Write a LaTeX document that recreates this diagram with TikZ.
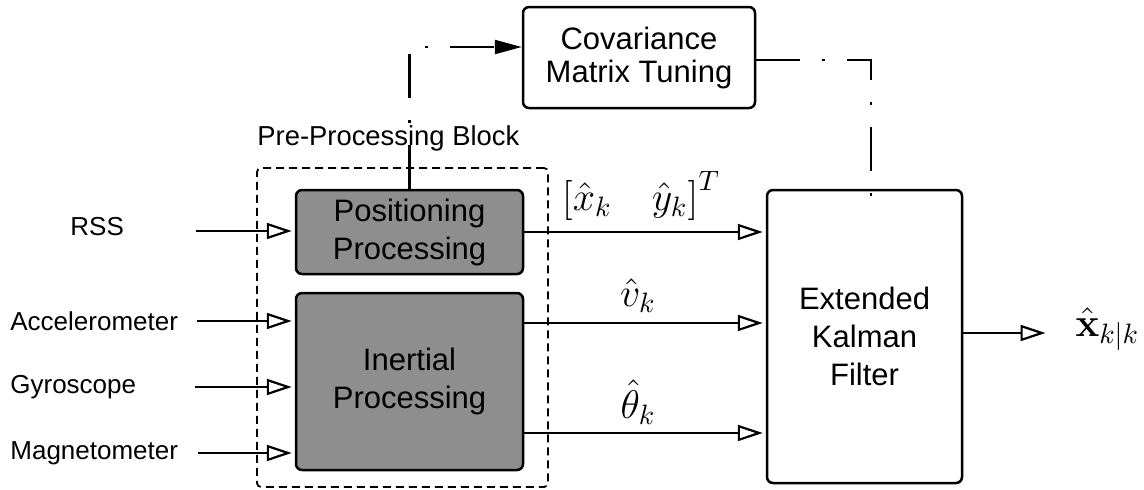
\RequirePackage{fix-cm}
\documentclass[tikz,border=0pt]{standalone}
\usepackage[no-math]{fontspec}
\newfontfamily\arialfont{Liberation Sans}
\usetikzlibrary{arrows.meta}
\definecolor{blockgray}{RGB}{142,142,142}

\begin{document}
\begin{tikzpicture}[x=0.5pt,y=-0.5pt,
  box/.style={draw, line width=1.25pt, rounded corners=3pt, inner sep=0pt,
    align=center, font=\arialfont\fontsize{15.5}{19}\selectfont},
  shaded/.style={box, fill=blockgray},
  sensor/.style={inner sep=0pt, anchor=base west,
    font=\arialfont\fontsize{13}{15}\selectfont},
  feed/.style={line width=1.1pt, shorten >=1.5pt,
    -{Triangle[open, length=12.5pt, width=8pt, line width=1.1pt]}},
  tune/.style={line width=1.1pt, dash pattern=on 22pt off 11pt on 1.5pt off 11pt},
  mathlabel/.style={inner sep=0pt, anchor=base, scale=1.25,
    font=\fontsize{16}{19}\selectfont}
]
\useasboundingbox (0,0) rectangle (1144,489);

% processing blocks
\node[draw, line width=0.9pt, dash pattern=on 4pt off 2.5pt, rounded corners=2pt,
      minimum width=145.5pt, minimum height=159.5pt] (pre) at (402.5,327.5) {};
\node[inner sep=0pt, anchor=base west, font=\arialfont\fontsize{13.7}{16}\selectfont]
      (prelab) at (257,145) {Pre-Processing Block};
\node[box, minimum width=116pt, minimum height=50.5pt,
      font=\arialfont\fontsize{15.5}{16.5}\selectfont] (tune) at (639,57.5) {Covariance\\Matrix Tuning};
\node[shaded, minimum width=113.5pt, minimum height=42pt] (pos) at (409.5,232) {Positioning\\Processing};
\node[shaded, minimum width=113.5pt, minimum height=88.5pt] (ins) at (409.5,381.5) {Inertial\\Processing};
\node[box, minimum width=97.5pt, minimum height=146.5pt] (ekf) at (864.5,336.5) {Extended\\Kalman\\Filter};

% sensor inputs
\node[sensor] (rss) at (70,235) {RSS};
\node[sensor] (acc) at (10,330) {Accelerometer};
\node[sensor] (gyr) at (10,393) {Gyroscope};
\node[sensor] (mag) at (10,459) {Magnetometer};

\coordinate (rssIn) at (196,231);
\coordinate (accIn) at (197,321);
\coordinate (gyrIn) at (195,387);
\coordinate (magIn) at (198,453);
\draw[feed] (rssIn) -- (rssIn -| pos.west);
\draw[feed] (accIn) -- (accIn -| ins.west);
\draw[feed] (gyrIn) -- (gyrIn -| ins.west);
\draw[feed] (magIn) -- (magIn -| ins.west);

% estimates passed to the filter
\coordinate (vy) at (0,323);
\coordinate (thy) at (0,433);
\draw[feed] (pos.east) -- (pos.east -| ekf.west);
\draw[feed] (ins.east |- vy) -- (ekf.west |- vy);
\draw[feed] (ins.east |- thy) -- (ekf.west |- thy);

\node[mathlabel] (poslab) at (641,210) {$\left[\hat{x}_k \hspace{1em} \hat{y}_k\right]^T$};
\node[mathlabel] (vlab) at (638,306.5) {$\hat{v}_k$};
\node[mathlabel] (thlab) at (638,418) {$\hat{\theta}_k$};

% filter output
\coordinate (xout) at (1048.5,333);
\draw[feed] (ekf.east |- xout) -- (xout);
\node[mathlabel, anchor=base west] (xlab) at (1075,336.5) {$\hat{\mathbf{x}}_{k|k}$};

% covariance tuning loop
\coordinate (tuneIn) at (0,47);
\coordinate (tuneOut) at (871,60);
\draw[tune, -{Triangle[length=13.5pt, width=7pt]}]
  (pos.north) |- (tune.west |- tuneIn);
\draw[tune] (tune.east |- tuneOut) -| ([yshift=-5pt]ekf.north -| tuneOut);
\end{tikzpicture}
\end{document}
